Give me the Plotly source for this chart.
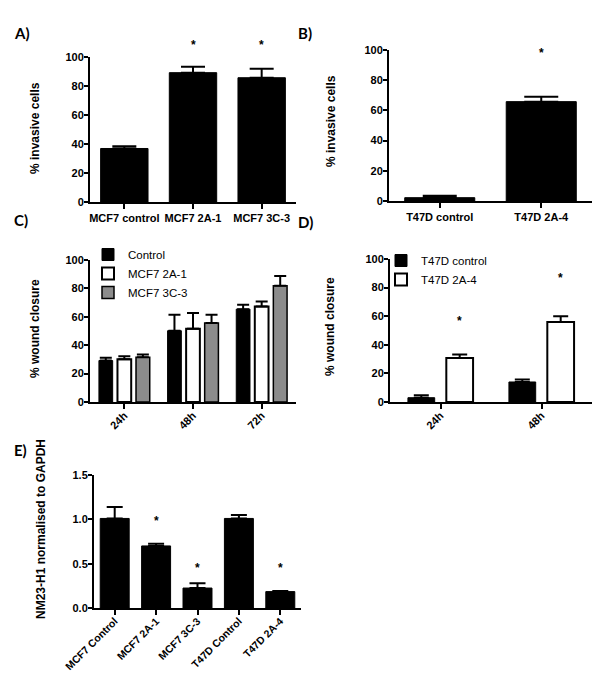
import plotly.graph_objects as go

W, H = 600, 675

# ---------------- data ----------------
a_cats = ["MCF7 control", "MCF7 2A-1", "MCF7 3C-3"]
a_vals = [36.9, 89.2, 85.7]
a_err = [1.6, 4.1, 6.2]
a_star_cats = ["MCF7 2A-1", "MCF7 3C-3"]
a_star_y = [105, 105]

b_cats = ["T47D control", "T47D 2A-4"]
b_vals = [2.2, 65.8]
b_err = [1.3, 3.3]
b_star_cats = ["T47D 2A-4"]
b_star_y = [95]

c_times = ["24h", "48h", "72h"]
c_series = ["Control", "MCF7 2A-1", "MCF7 3C-3"]
c_control = [29.2, 50.2, 65.4]
c_control_err = [1.9, 11.2, 3.1]
c_2a1 = [30.1, 51.6, 67.3]
c_2a1_err = [2.1, 11.0, 3.5]
c_3c3 = [31.5, 55.6, 81.8]
c_3c3_err = [1.9, 5.8, 7.0]

d_times = ["24h", "48h"]
d_series = ["T47D control", "T47D 2A-4"]
d_control = [3.0, 14.0]
d_control_err = [1.7, 1.8]
d_2a4 = [30.7, 56.0]
d_2a4_err = [2.6, 4.0]
d_star_y = [53, 83]

e_cats = ["MCF7 Control", "MCF7 2A-1", "MCF7 3C-3", "T47D Control", "T47D 2A-4"]
e_vals = [1.01, 0.70, 0.225, 1.01, 0.185]
e_err = [0.13, 0.024, 0.053, 0.04, 0.006]
e_star_cats = ["MCF7 2A-1", "MCF7 3C-3", "T47D 2A-4"]
e_star_y = [0.92, 0.40, 0.40]

# ---------------- style ----------------
FONT = "Liberation Sans"
BLACK = "#000000"
GRAY = "#8c8c8c"
WHITE = "#ffffff"


def xd(px):
    return px / W


def yd(py):
    return 1 - py / H


fig = go.Figure()


def add_bar(x, y, err, axis, width, offset, fill, line_w, cap, name=None, legend=None):
    fig.add_trace(go.Bar(
        x=x, y=y, name=name,
        xaxis="x" + axis, yaxis="y" + axis,
        width=width, offset=offset,
        marker=dict(color=fill, line=dict(color=BLACK, width=line_w)),
        error_y=dict(type="data", array=err, arrayminus=[0] * len(err), symmetric=False,
                     color=BLACK, thickness=2, width=cap),
        showlegend=name is not None,
        legend=legend if legend else "legend",
        hoverinfo="x+y",
    ))


# A
add_bar(a_cats, a_vals, a_err, "", 0.69, -0.345, BLACK, 1, 12)
# B
add_bar(b_cats, b_vals, b_err, "2", 0.69, -0.345, BLACK, 1, 17)
# C
add_bar(c_times, c_control, c_control_err, "3", 0.2, -0.37, BLACK, 1, 6, c_series[0], "legend")
add_bar(c_times, c_2a1, c_2a1_err, "3", 0.2, -0.10, WHITE, 2, 6, c_series[1], "legend")
add_bar(c_times, c_3c3, c_3c3_err, "3", 0.2, 0.17, GRAY, 1.5, 6, c_series[2], "legend")
# D
add_bar(d_times, d_control, d_control_err, "4", 0.265, -0.3225, BLACK, 1, 7.5, d_series[0], "legend2")
add_bar(d_times, d_2a4, d_2a4_err, "4", 0.265, 0.0575, WHITE, 2, 7.5, d_series[1], "legend2")
# E
add_bar(e_cats, e_vals, e_err, "5", 0.7, -0.35, BLACK, 1, 8)


def tfont(size):
    return dict(family=FONT, size=size, color=BLACK, weight="bold")


def xaxis(px0, px1, anchor, angle=0, size=11, standoff=0):
    return dict(domain=[xd(px0), xd(px1)], anchor=anchor, type="category",
                showline=True, linecolor=BLACK, linewidth=2, ticks="outside",
                ticklen=5, tickwidth=2, tickcolor=BLACK, tickfont=tfont(size),
                tickangle=angle, showgrid=False, zeroline=False, fixedrange=True,
                automargin=False, ticklabelstandoff=standoff)


def yaxis(py0, py1, anchor, rng, dtick, fmt=None):
    d = dict(domain=[yd(py1), yd(py0)], anchor=anchor, range=rng,
             showline=True, linecolor=BLACK, linewidth=2, ticks="outside",
             ticklen=4, tickwidth=2, tickcolor=BLACK, tickfont=tfont(11),
             dtick=dtick, tick0=0, showgrid=False, zeroline=False,
             ticklabelstandoff=-2, fixedrange=True, automargin=False)
    if fmt:
        d["tickformat"] = fmt
    return d


layout = dict(
    width=W, height=H, margin=dict(l=0, r=0, t=0, b=0, autoexpand=False),
    paper_bgcolor=WHITE, plot_bgcolor=WHITE, barmode="overlay",
    font=dict(family=FONT, color=BLACK),
    xaxis=xaxis(82, 288, "y"),
    yaxis=yaxis(49, 194, "x", [0, 100], 20),
    xaxis2=xaxis(381, 584, "y2"),
    yaxis2=yaxis(42, 193, "x2", [0, 100], 20),
    xaxis3=xaxis(82, 288, "y3", -45, 11, -4),
    yaxis3=yaxis(252, 394, "x3", [0, 100], 20),
    xaxis4=xaxis(382, 584, "y4", -45, 11, -4),
    yaxis4=yaxis(251, 394, "x4", [0, 100], 20),
    xaxis5=xaxis(86, 293, "y5", -45, 10.5, -4),
    yaxis5=yaxis(467, 600, "x5", [0, 1.5], 0.5, ".1f"),
    legend=dict(x=xd(80), y=yd(232), xanchor="left", yanchor="top",
                bgcolor="rgba(0,0,0,0)", font=dict(family=FONT, size=11.5, color=BLACK)),
    legend2=dict(x=xd(373), y=yd(238), xanchor="left", yanchor="top",
                 bgcolor="rgba(0,0,0,0)", font=dict(family=FONT, size=11.5, color=BLACK)),
)
fig.update_layout(**layout)

ann = []
star_font = dict(family=FONT, size=12, color=BLACK, weight="bold")
SHIFT = 5
for c, y in zip(a_star_cats, a_star_y):
    ann.append(dict(x=c, y=y / 100.0, xref="x", yref="y domain", text="*", showarrow=False,
                    font=star_font, yanchor="middle", yshift=SHIFT))
for c, y in zip(b_star_cats, b_star_y):
    ann.append(dict(x=c, y=y, xref="x2", yref="y2", text="*", showarrow=False,
                    font=star_font, yanchor="middle", yshift=SHIFT))
for i, y in enumerate(d_star_y):
    ann.append(dict(x=i + 0.19, y=y, xref="x4", yref="y4", text="*", showarrow=False,
                    font=star_font, yanchor="middle", yshift=SHIFT))
for c, y in zip(e_star_cats, e_star_y):
    ann.append(dict(x=c, y=y, xref="x5", yref="y5", text="*", showarrow=False,
                    font=star_font, yanchor="middle", yshift=SHIFT))

title_font = dict(family=FONT, size=12, color=BLACK, weight="bold")
for txt, px, py in [("% invasive cells", 27, 120), ("% invasive cells", 323, 113),
                    ("% wound closure", 27, 321), ("% wound closure", 322, 319),
                    ("NM23-H1 normalised to GAPDH", 33, 521)]:
    ann.append(dict(x=xd(px), y=yd(py), xref="paper", yref="paper", text=txt,
                    textangle=-90, showarrow=False, font=title_font,
                    xanchor="center", yanchor="middle"))

letter_font = dict(family="Lato", size=15, color=BLACK, weight="bold")
for txt, px, py in [("A)", 4, 25), ("B)", 288, 25), ("C)", 4, 212), ("D)", 288, 214), ("E)", 4, 442)]:
    ann.append(dict(x=xd(px), y=yd(py), xref="paper", yref="paper", text=txt,
                    showarrow=False, font=letter_font, xanchor="left", yanchor="middle"))

fig.update_layout(annotations=ann)
fig.write_html("out.html")
